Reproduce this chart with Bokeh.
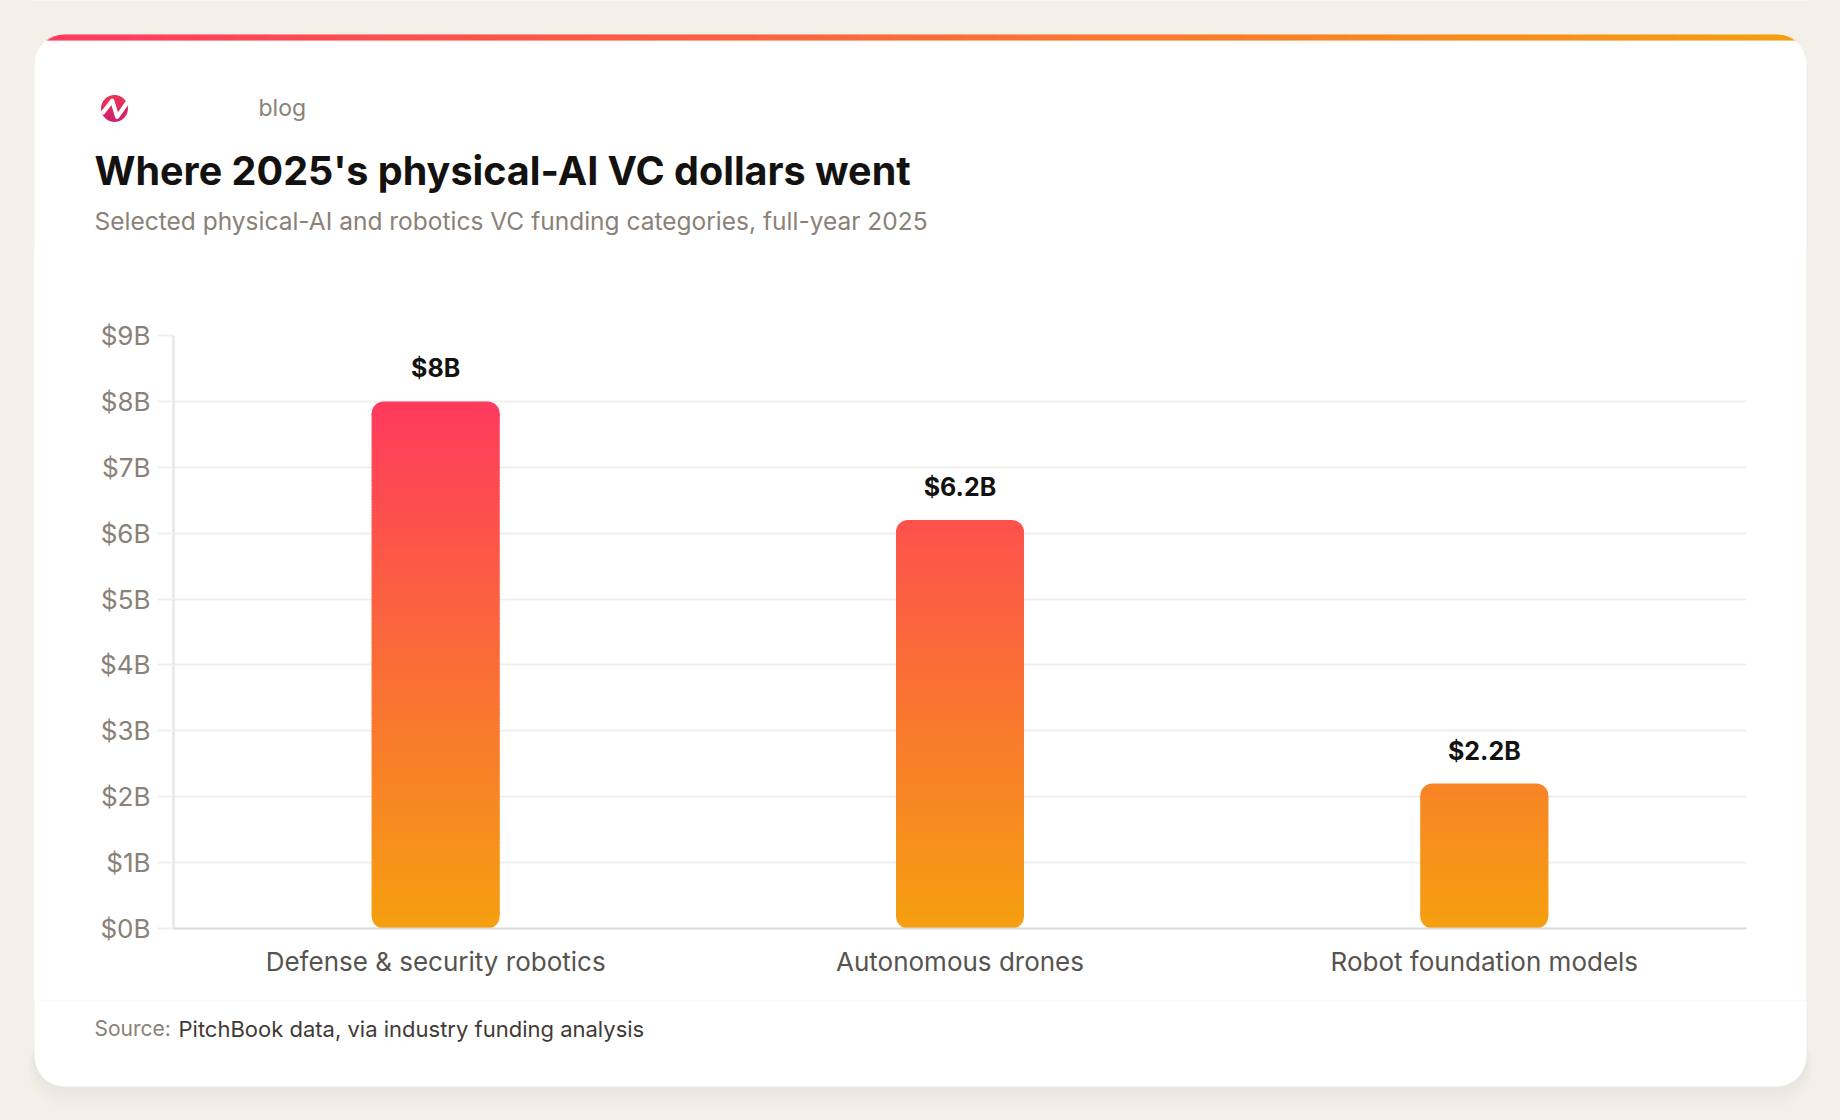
import numpy as np
from bokeh.plotting import figure
from bokeh.layouts import column, row
from bokeh.models import FactorRange, Range1d, FixedTicker, ColumnDataSource, Spacer
from bokeh.core.properties import value
from bokeh.embed import file_html
from bokeh.resources import INLINE

# ---- data -------------------------------------------------------------
categories = ["Defense & security robotics", "Autonomous drones", "Robot foundation models"]
funding_b = [8.0, 6.2, 2.2]
value_labels = ["$8B", "$6.2B", "$2.2B"]
y_ticks = [0, 1, 2, 3, 4, 5, 6, 7, 8, 9]
y_tick_labels = ["$0B", "$1B", "$2B", "$3B", "$4B", "$5B", "$6B", "$7B", "$8B", "$9B"]

title_text = "Where 2025's physical-AI VC dollars went"
subtitle_text = "Selected physical-AI and robotics VC funding categories, full-year 2025"
brand_text = "blog"
source_prefix = "Source:"
source_text = "PitchBook data, via industry funding analysis"

# ---- page geometry (pixels, top-left origin) --------------------------
W, H = 1840, 1120
CARD_L, CARD_R, CARD_T, CARD_B = 34, 1806, 34, 1086
CARD_RADIUS = 30
STRIPE_H = 6
HDR_H = 250                 # header band
FTR_T = 1000                # footer band starts here
FRAME_L, FRAME_R, FRAME_T, FRAME_B = 173, 1746, 335, 928
Y_MAX = 9

FONT = "Inter"
BG = "#f3f0ea"
INK = "#141210"
MUTED = "#8a8178"
LABEL_INK = "#57534e"

PINK = np.array([255, 58, 94])
AMBER = np.array([245, 160, 16])
LOGO_TOP = np.array([242, 56, 78])
LOGO_BOTTOM = np.array([200, 30, 122])


def hexcol(c):
    return "#%02x%02x%02x" % tuple(int(round(v)) for v in c)


def mix(t):
    """Colour along the amber (t=0) -> pink (t=1) ramp."""
    t = float(np.clip(t, 0, 1))
    return hexcol(AMBER + (PINK - AMBER) * t)


# page backdrop: beige margins, white behind the card column
backdrop = (f"linear-gradient(to right, {BG} 0px, {BG} {CARD_L}px, white {CARD_L}px, "
            f"white {CARD_R}px, {BG} {CARD_R}px, {BG} {W}px)")


def band(height, y0, border=BG):
    """A full-width figure whose data units are page pixels."""
    f = figure(width=W, height=height, x_range=Range1d(0, W),
               y_range=Range1d(y0 + height, y0), x_axis_type=None, y_axis_type=None,
               output_backend="svg", toolbar_location=None, min_border=0, title=None,
               styles={"background": backdrop})
    f.background_fill_color = BG
    f.border_fill_color = border
    f.outline_line_color = None
    return f


# ---- header: card top, gradient stripe, logo, titles -------------------
hdr = band(HDR_H, 0)

# white card body (continues below the band)
hdr.quad(left=CARD_L, right=CARD_R, top=CARD_T, bottom=HDR_H + 200,
         fill_color="white", line_color=None, border_radius=CARD_RADIUS)

# gradient stripe along the card's top edge, trimmed to the rounded corners
seg_l = np.arange(CARD_L, CARD_R, 2.0)
seg_c = seg_l + 1.0
off = np.minimum(seg_c - CARD_L, CARD_R - seg_c)
inset = np.where(off < CARD_RADIUS,
                 CARD_RADIUS - np.sqrt(np.clip(CARD_RADIUS ** 2 - (CARD_RADIUS - off) ** 2, 0, None)),
                 0.0)
keep = inset < STRIPE_H
hdr.quad(left=seg_l[keep], right=seg_l[keep] + 2.6, top=CARD_T + inset[keep],
         bottom=CARD_T + STRIPE_H,
         fill_color=[mix(1 - (c - CARD_L) / (CARD_R - CARD_L)) for c in seg_c[keep]],
         line_color=None)

# logo mark: disc with a vertical colour blend and a white zigzag
LOGO_CX, LOGO_CY, LOGO_R = 114, 108, 13.5
hdr.circle(x=[LOGO_CX], y=[LOGO_CY], radius=LOGO_R, fill_color=hexcol((LOGO_TOP + LOGO_BOTTOM) / 2),
           line_color=None)
rows = np.arange(-LOGO_R + 1.5, LOGO_R - 1.5, 1.0)
half = np.sqrt(np.clip((LOGO_R - 0.9) ** 2 - (rows + 0.5) ** 2, 0, None))
hdr.quad(left=LOGO_CX - half, right=LOGO_CX + half, top=LOGO_CY + rows,
         bottom=LOGO_CY + rows + 1.3,
         fill_color=[hexcol(LOGO_TOP + (LOGO_BOTTOM - LOGO_TOP) * (rr + LOGO_R) / (2 * LOGO_R))
                     for rr in rows],
         line_color=None)
zig_u = np.array([-0.92, -0.17, 0.2, 0.95])
zig_v = np.array([0.38, -0.58, 0.62, -0.45])
hdr.line(x=LOGO_CX + LOGO_R * zig_u, y=LOGO_CY + LOGO_R * zig_v, line_color="white",
         line_width=4.2, line_join="round", line_cap="butt")

hdr.text(x=[258], y=[107], text=[brand_text], text_font=value(FONT), text_font_size="23px",
         text_color=MUTED, text_baseline="alphabetic")
hdr.text(x=[94], y=[170], text=[title_text], text_font=value(FONT), text_font_size="39.5px",
         text_font_style="bold", text_color=INK, text_baseline="alphabetic")
hdr.text(x=[94], y=[220], text=[subtitle_text], text_font=value(FONT), text_font_size="24.5px",
         text_color=MUTED, text_baseline="alphabetic")

# ---- chart ------------------------------------------------------------
CH_W = CARD_R - CARD_L
CH_H = FTR_T - HDR_H
p = figure(width=CH_W, height=CH_H,
           x_range=FactorRange(factors=categories),
           y_range=Range1d(0, Y_MAX),
           output_backend="svg", toolbar_location=None, title=None,
           min_border_left=FRAME_L - CARD_L, min_border_right=CARD_R - FRAME_R,
           min_border_top=FRAME_T - HDR_H, min_border_bottom=FTR_T - FRAME_B,
           styles={"background": "white"})
p.border_fill_color = "white"
p.background_fill_color = "white"
p.outline_line_color = None

PX_Y = (FRAME_B - FRAME_T) / Y_MAX
BAR_W = 0.244
RAD_PX = 12
r = RAD_PX / PX_Y
v_max = max(funding_b)
n = len(categories)

# rounded ends of each bar
p.vbar(x=categories, bottom=[0] * n, top=[2 * r] * n, width=BAR_W,
       fill_color=[mix(r / 2 / v_max)] * n, line_color=None, border_radius=RAD_PX)
p.vbar(x=categories, bottom=[v - 2 * r for v in funding_b], top=funding_b, width=BAR_W,
       fill_color=[mix((v - r / 2) / v_max) for v in funding_b], line_color=None,
       border_radius=RAD_PX)

# straight body of each bar as thin colour steps
step = 0.04
xs, bots, tops, cols = [], [], [], []
for cat, v in zip(categories, funding_b):
    for e in np.arange(r, v - r, step):
        xs.append(cat)
        bots.append(e)
        tops.append(min(e + step * 1.6, v - r))
        cols.append(mix((e + step / 2) / v_max))
slices = ColumnDataSource(dict(x=xs, bottom=bots, top=tops, color=cols))
p.vbar(x="x", bottom="bottom", top="top", width=BAR_W, fill_color="color",
       line_color=None, source=slices)

p.text(x=categories, y=funding_b, text=value_labels, y_offset=-33,
       text_align="center", text_baseline="alphabetic", text_font=value(FONT),
       text_font_style="bold", text_font_size="25px", text_color=INK)

p.xgrid.grid_line_color = None
p.ygrid.grid_line_color = "#f0efed"
p.ygrid.grid_line_width = 2
p.ygrid.ticker = FixedTicker(ticks=y_ticks)

yax = p.yaxis[0]
yax.ticker = FixedTicker(ticks=y_ticks)
yax.major_label_overrides = {t: lab for t, lab in zip(y_ticks, y_tick_labels)}
yax.axis_line_color = "#e4e2df"
yax.axis_line_width = 2
yax.major_tick_out = 16
yax.major_tick_in = 0
yax.major_tick_line_color = "#f0efed"
yax.major_tick_line_width = 2
yax.minor_tick_line_color = None
yax.major_label_standoff = 7
yax.major_label_text_font = FONT
yax.major_label_text_font_size = "26px"
yax.major_label_text_color = MUTED

xax = p.xaxis[0]
xax.axis_line_color = "#dcdad7"
xax.axis_line_width = 2
xax.major_tick_line_color = None
xax.minor_tick_line_color = None
xax.major_label_standoff = 11
xax.major_label_text_font = FONT
xax.major_label_text_font_size = "26px"
xax.major_label_text_color = LABEL_INK

# ---- footer: card bottom, shadow, source line --------------------------
ftr = band(H - FTR_T, FTR_T, border="white")
for k in range(1, 11):
    ftr.quad(left=CARD_L - 0.6 * k, right=CARD_R + 0.6 * k, top=CARD_B - 60,
             bottom=CARD_B + 2.2 * k, fill_color="#6b5f50", fill_alpha=0.008,
             line_color=None, border_radius=CARD_RADIUS + k)
ftr.quad(left=CARD_L, right=CARD_R, top=FTR_T - 200, bottom=CARD_B,
         fill_color="white", line_color=None, border_radius=CARD_RADIUS)
ftr.text(x=[94], y=[1028], text=[source_prefix], text_font=value(FONT), text_font_size="21px",
         text_color=MUTED, text_baseline="alphabetic")
ftr.text(x=[178], y=[1028], text=[source_text], text_font=value(FONT), text_font_size="22px",
         text_color="#3f3a35", text_baseline="alphabetic")

middle = row(Spacer(width=CARD_L, height=CH_H, styles={"background-color": BG}), p,
             Spacer(width=W - CARD_R, height=CH_H, styles={"background-color": BG}),
             spacing=0, styles={"background": backdrop})
page = column(hdr, middle, ftr, spacing=0, styles={"background": backdrop})

open("out.html", "w").write(file_html(page, INLINE))
